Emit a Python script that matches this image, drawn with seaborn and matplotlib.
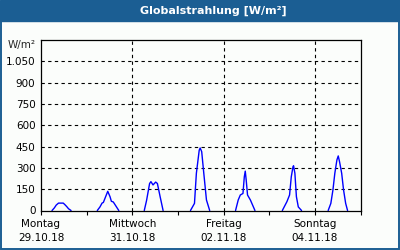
import seaborn as sns
import pandas as pd
import matplotlib.pyplot as plt
from matplotlib.patches import Rectangle

# hours of day and W/m2, one list pair per day
mon_h = [5.8, 7.0, 8.0, 8.6, 9.2, 11.7, 12.5, 13.5, 14.5, 15.8]
mon_w = [0, 18, 38, 45, 52, 52, 42, 28, 12, 0]
tue_h = [5.6, 7.0, 8.1, 8.8, 11.1, 12.3, 13.0, 14.0, 14.4, 16.9]
tue_w = [0, 25, 52, 57, 135, 97, 65, 60, 52, 0]
wed_h = [6.3, 7.5, 9.1, 9.8, 10.9, 12.3, 13.2, 14.5, 16.2]
wed_w = [0, 70, 190, 203, 180, 200, 190, 106, 0]
thu_h = [6.6, 8.7, 9.7, 11.2, 11.7, 12.5, 13.6, 15.0, 16.7]
thu_w = [0, 50, 262, 425, 440, 414, 262, 74, 0]
fri_h = [6.3, 7.7, 8.8, 10.2, 10.9, 11.4, 11.9, 12.6, 14.1, 16.5]
fri_w = [0, 74, 109, 120, 237, 277, 214, 109, 74, 0]
sat_h = [6.9, 9.3, 10.7, 11.6, 12.5, 12.8, 13.5, 14.3, 15.3, 17.0]
sat_w = [0, 62, 109, 237, 308, 315, 262, 97, 25, 0]
sun_h = [7.0, 8.4, 9.5, 10.5, 11.6, 12.3, 13.0, 14.1, 15.1, 16.2, 17.2]
sun_w = [0, 50, 144, 262, 356, 384, 342, 262, 144, 50, 0]

day_labels = ["Montag\n29.10.18", "", "Mittwoch\n31.10.18", "",
              "Freitag\n02.11.18", "", "Sonntag\n04.11.18", ""]
y_ticks = [0, 150, 300, 450, 600, 750, 900, 1050]
y_labels = ["0", "150", "300", "450", "600", "750", "900", "1.050"]

rows = []
for d, (hs, ws) in enumerate([(mon_h, mon_w), (tue_h, tue_w), (wed_h, wed_w),
                              (thu_h, thu_w), (fri_h, fri_w), (sat_h, sat_w),
                              (sun_h, sun_w)]):
    for h, w in zip(hs, ws):
        rows.append({"day": d, "t": d + h / 24.0, "w": w})
df = pd.DataFrame(rows)

sns.set_style("white")
plt.rcParams['font.family'] = ['DejaVu Sans']
bg = "#fbfdfb"
blue_frame = "#1b5e93"

fig = plt.figure(figsize=(4, 2.5), dpi=100, facecolor=bg)
ax = fig.add_axes([41 / 400, 1 - 210.5 / 250, 319.5 / 400, 170.5 / 250])
ax.set_facecolor(bg)

sns.lineplot(data=df, x="t", y="w", units="day", estimator=None,
             color="#0000ff", lw=1.0, ax=ax)

ax.set_xlim(0, 7)
ax.set_ylim(0, 1200)
ax.set_xlabel("")
ax.set_ylabel("")
ax.set_xticks(range(8))
ax.set_xticklabels(day_labels, fontsize=7.5, linespacing=1.55)
ax.set_yticks(y_ticks)
ax.set_yticklabels(y_labels, fontsize=7.5)
ax.tick_params(axis="x", direction="out", length=3, width=0.8, pad=3,
               colors="black", bottom=True)
ax.tick_params(axis="y", length=0, pad=4, colors="black")

for y in y_ticks[1:]:
    ax.axhline(y, color="black", lw=0.8, ls=(0, (3, 3)), zorder=1)
for x in [2, 4, 6]:
    ax.axvline(x, color="black", lw=0.8, ls=(0, (3, 3)), zorder=1)

for s in ax.spines.values():
    s.set_visible(True)
    s.set_color("black")
    s.set_linewidth(0.9)

fig.text(36 / 400, 1 - 45.5 / 250, "W/m²", ha="right", va="center",
         fontsize=7.5)

# title bar and outer frame
fig.patches.append(Rectangle((0, 1 - 20.5 / 250), 1, 20.5 / 250,
                             transform=fig.transFigure, color=blue_frame,
                             zorder=0))
fig.patches.append(Rectangle((0.002, 0.003), 0.995, 0.99,
                             transform=fig.transFigure, fill=False,
                             edgecolor=blue_frame, lw=1.4, zorder=0))
fig.text(213 / 400, 1 - 10.5 / 250, "Globalstrahlung [W/m²]", ha="center",
         va="center", color="white", fontsize=8, fontweight="bold")

fig.savefig("out.png", dpi=100, facecolor=bg)
